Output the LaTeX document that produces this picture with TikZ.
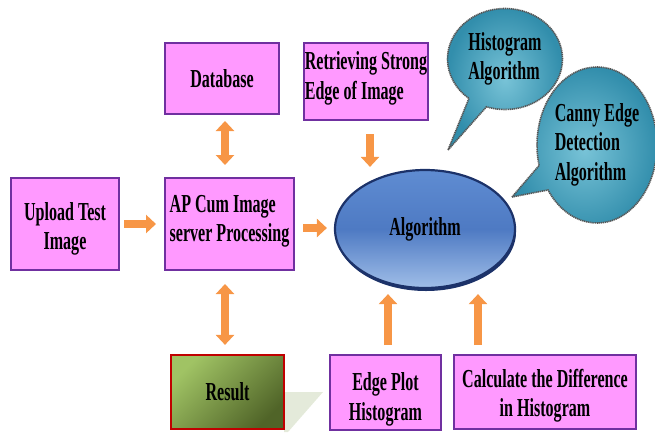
\documentclass[tikz,border=0pt]{standalone}
\usepackage{fontspec}
\setmainfont{Liberation Serif}[FakeStretch=0.62]
\usetikzlibrary{shapes.geometric,shapes.callouts,arrows.meta}

\definecolor{boxpink}{RGB}{255,153,255}
\definecolor{boxline}{RGB}{112,48,160}
\definecolor{arrorange}{RGB}{247,150,70}
\definecolor{algnavy}{RGB}{28,50,105}
\definecolor{algtop}{RGB}{95,140,210}
\definecolor{algmid}{RGB}{78,122,195}
\definecolor{algbot}{RGB}{160,190,232}
\definecolor{resLight}{RGB}{160,195,100}
\definecolor{resDark}{RGB}{80,100,40}
\definecolor{resline}{RGB}{192,0,0}
\definecolor{tealIn}{RGB}{120,195,215}
\definecolor{tealOut}{RGB}{50,142,172}
\definecolor{bubbleline}{RGB}{85,85,85}
\definecolor{shadowgreen}{RGB}{228,234,218}

% text block moved vertically inside its node: {shift}{column type}{lines}
\newcommand{\nudged}[3]{\raisebox{#1}[\height][\depth]{%
  \begin{tabular}{@{}#2@{}}#3\end{tabular}}}

\tikzset{
  lbl/.style={font=\fontsize{26}{30}\selectfont\bfseries, text=black},
  pinkbox/.style={lbl, draw=boxline, line width=2bp, fill=boxpink,
    inner sep=0pt, align=center},
  bubble/.style={lbl, ellipse callout, draw=bubbleline, line width=1.6bp,
    dash pattern=on 1.2bp off 0.7bp, inner color=tealIn, outer color=tealOut,
    inner sep=0pt, callout pointer arc=20},
  flow/.style={line width=8bp, draw=arrorange,
    -{Triangle[length=10bp,width=18bp]}},
  twoway/.style={line width=8bp, draw=arrorange,
    {Triangle[length=10bp,width=18bp]}-{Triangle[length=10bp,width=18bp]}},
}

\begin{document}
\begin{tikzpicture}[x=1bp, y=-1bp]
\useasboundingbox (0,0) rectangle (655,432);

% input and processing boxes
\node[pinkbox, minimum width=108bp, minimum height=92bp] (up) at (65,224)
  {\nudged{-5bp}{c}{Upload Test\\Image}};
\node[pinkbox, minimum width=129bp, minimum height=92bp] (ap) at (229.5,224)
  {\nudged{3bp}{l}{AP Cum Image\\server Processing}};
\node[pinkbox, minimum width=114bp, minimum height=71bp] (db) at (222,78.5)
  {Database};
\node[pinkbox, minimum width=124bp, minimum height=77bp] (ret) at (366,81.5)
  {\nudged{3bp}{l}{Retrieving Strong\\Edge of Image}};

% result box with its cast shadow
\fill[shadowgreen] (284,392) -- (323,392) -- (288,432) -- (284,432) -- cycle;
\node[lbl, draw=resline, line width=2.2bp, inner sep=0pt,
  minimum width=113bp, minimum height=74bp,
  top color=resLight, bottom color=resDark, shading angle=45] (res) at (227.5,392)
  {Result};

% histogram boxes
\node[pinkbox, minimum width=111bp, minimum height=75bp] (ep) at (385.5,392.5)
  {\nudged{-7bp}{c}{Edge Plot\\Histogram}};
\node[pinkbox, minimum width=182bp, minimum height=74bp] (calc) at (545,392)
  {\nudged{-4bp}{c}{Calculate the Difference\\in Histogram}};

% algorithm ellipse with its darker rim
\fill[algnavy] (426,232) ellipse [x radius=90bp, y radius=59bp];
\node[lbl, ellipse, draw=algnavy, line width=2.2bp, inner sep=0pt,
  minimum width=180bp, minimum height=118bp,
  top color=algtop, bottom color=algbot, middle color=algmid] (alg) at (425,229)
  {Algorithm};

% callouts
\node[bubble, minimum width=115bp, minimum height=101bp,
  callout absolute pointer={(448,150)}] (hist) at (505,59)
  {\nudged{0bp}{l}{Histogram\\Algorithm}};
\node[bubble, minimum width=120bp, minimum height=156bp,
  callout absolute pointer={(512,197)}] (canny) at (597,145)
  {\nudged{0bp}{l}{Canny Edge\\Detection\\Algorithm}};

% connectors
\draw[flow, shorten <=4bp, shorten >=8bp] (up.east) -- (ap.west);
\draw[flow, shorten <=8bp, shorten >=7bp] (ap.east |- 0,228) -- (alg.west |- 0,228);
\draw[twoway, shorten <=6bp, shorten >=12bp]
  ([xshift=3bp]db.south) -- ([xshift=3bp]db.south |- ap.north);
\draw[twoway, shorten <=13bp, shorten >=9bp]
  ([xshift=-2.5bp]res.north |- ap.south) -- ([xshift=-2.5bp]res.north);
\draw[flow, shorten <=13bp, shorten >=2bp]
  ([xshift=4bp]ret.south) -- ([xshift=4bp]ret.south |- alg.north);
\draw[flow, shorten <=9bp, shorten >=5bp]
  ([xshift=2.5bp]ep.north) -- ([xshift=2.5bp]ep.north |- alg.south);
\draw[flow, shorten <=9bp, shorten >=5bp]
  ([xshift=-67bp]calc.north) -- ([xshift=-67bp]calc.north |- alg.south);
\end{tikzpicture}
\end{document}
